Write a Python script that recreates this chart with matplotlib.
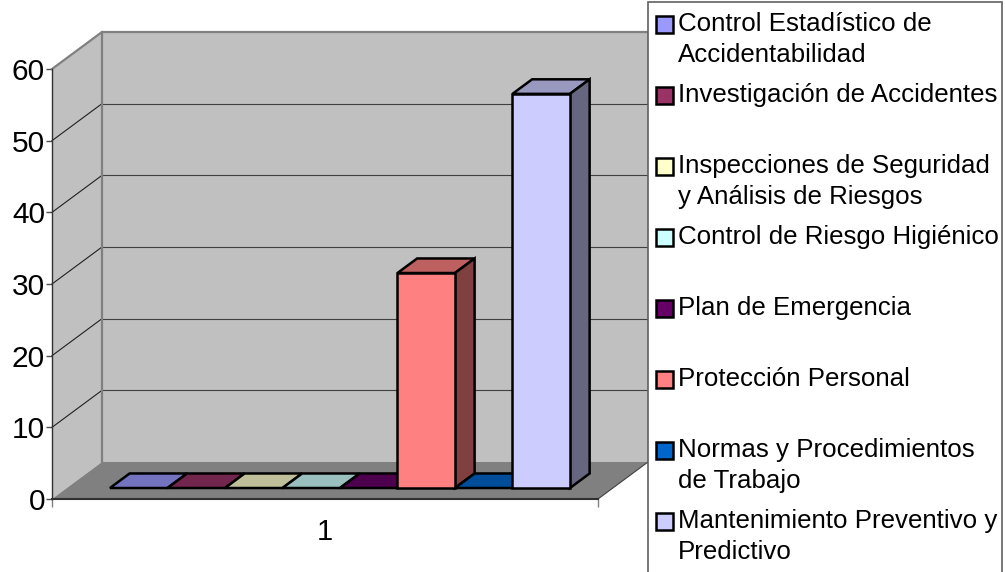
import matplotlib
matplotlib.use('Agg')
import matplotlib.pyplot as plt
from matplotlib.colors import to_rgb
from matplotlib.patches import Rectangle

plt.rcParams['font.family'] = ['Liberation Sans', 'DejaVu Sans']

labels = ['Control Estadístico de\nAccidentabilidad',
          'Investigación de Accidentes',
          'Inspecciones de Seguridad\ny Análisis de Riesgos',
          'Control de Riesgo Higiénico',
          'Plan de Emergencia',
          'Protección Personal',
          'Normas y Procedimientos\nde Trabajo',
          'Mantenimiento Preventivo y\nPredictivo']
values = [0, 0, 0, 0, 0, 30, 0, 55]
colors = ['#9999FF', '#993366', '#FFFFCC', '#CCFFFF',
          '#660066', '#FF8080', '#0066CC', '#CCCCFF']
y_ticks = [0, 10, 20, 30, 40, 50, 60]
category = '1'

W, H = 1005, 572
# size of the chart's depth, in data units
DX = 50 / 57.5
DY = 37 / (430 / 60)
X_MAX = 546 / 57.5
BAR_START = 0.75


def shade(color, k):
    return tuple(c * k for c in to_rgb(color))


def pt(x, v, d):
    return x + d * DX, v + d * DY


def face(ax, corners, color, z, edge='black', lw=1.8):
    xs = [c[0] for c in corners]
    ys = [c[1] for c in corners]
    ax.fill(xs, ys, facecolor=color, edgecolor=edge, linewidth=lw, zorder=z,
            clip_on=False, joinstyle='miter')


fig = plt.figure(figsize=(W / 100, H / 100), dpi=100)
ax = fig.add_axes([52 / W, 1 - 499 / H, 546 / W, 430 / H])
ax.patch.set_alpha(0)
ax.set_xlim(0, X_MAX)
ax.set_ylim(0, 60)

# walls and floor
face(ax, [pt(0, 0, 0), pt(0, 60, 0), pt(0, 60, 1), pt(0, 0, 1)], '#C0C0C0', 1, 'none', 0)
face(ax, [pt(0, 0, 1), pt(0, 60, 1), pt(X_MAX, 60, 1), pt(X_MAX, 0, 1)], '#C0C0C0', 1, 'none', 0)
face(ax, [pt(0, 0, 0), pt(0, 0, 1), pt(X_MAX, 0, 1), pt(X_MAX, 0, 0)], '#808080', 2, 'none', 0)

for v in y_ticks[1:-1]:
    ax.plot(*zip(pt(0, v, 0), pt(0, v, 1)), color='#202020', lw=0.8, zorder=3, clip_on=False)
    ax.plot(*zip(pt(0, v, 1), pt(X_MAX, v, 1)), color='#404040', lw=0.8, zorder=3, clip_on=False)

ax.plot(*zip(pt(0, 60, 0), pt(0, 60, 1), pt(X_MAX, 60, 1)), color='#808080', lw=1.6, zorder=3, clip_on=False)
ax.plot(*zip(pt(0, 0, 1), pt(0, 60, 1)), color='#808080', lw=1.6, zorder=3, clip_on=False)
ax.plot(*zip(pt(X_MAX, 0, 0), pt(X_MAX, 0, 1)), color='#404040', lw=0.8, zorder=3, clip_on=False)

# bars
d0, d1 = 0.297, 0.69
for i, (val, col) in enumerate(zip(values, colors)):
    x0, x1 = BAR_START + i, BAR_START + i + 1
    z = 4 + i
    face(ax, [pt(x0, val, d0), pt(x0, val, d1), pt(x1, val, d1), pt(x1, val, d0)], shade(col, 0.75), z)
    if val > 0:
        face(ax, [pt(x1, 0, d0), pt(x1, val, d0), pt(x1, val, d1), pt(x1, 0, d1)], shade(col, 0.5), z)
        face(ax, [pt(x0, 0, d0), pt(x0, val, d0), pt(x1, val, d0), pt(x1, 0, d0)], col, z)

# axes
for s in ['top', 'right']:
    ax.spines[s].set_visible(False)
ax.spines['left'].set_color('#303030')
ax.spines['left'].set_linewidth(1.0)
ax.spines['bottom'].set_color('#303030')
ax.spines['bottom'].set_linewidth(1.5)
ax.spines['left'].set_zorder(20)
ax.spines['bottom'].set_zorder(20)
ax.set_yticks(y_ticks)
ax.tick_params(axis='y', length=4, width=1, color='#505050', labelsize=21.5, pad=1)
ax.set_xticks([X_MAX / 2], [category])
ax.tick_params(axis='x', length=0, labelsize=21, pad=14)
ax.set_xticks([0, X_MAX], minor=True)
ax.tick_params(axis='x', which='minor', length=6, width=1, color='#808080')

# legend panel, laid out in pixels
leg = fig.add_axes([0, 0, 1, 1], zorder=10)
leg.set_xlim(0, W)
leg.set_ylim(H, 0)
leg.axis('off')
leg.add_patch(Rectangle((648, 2), 354, 580, facecolor='white', edgecolor='#606060', linewidth=1.2))
for i, (label, col) in enumerate(zip(labels, colors)):
    top = 16 + 71 * i
    leg.add_patch(Rectangle((655.5, top), 17, 17, facecolor=col, edgecolor='black', linewidth=1.8))
    for j, line in enumerate(label.split('\n')):
        leg.text(678, 31 + 71 * i + 31 * j, line, fontsize=18.6, va='baseline', ha='left', color='black')

fig.savefig('out.png', dpi=100)
